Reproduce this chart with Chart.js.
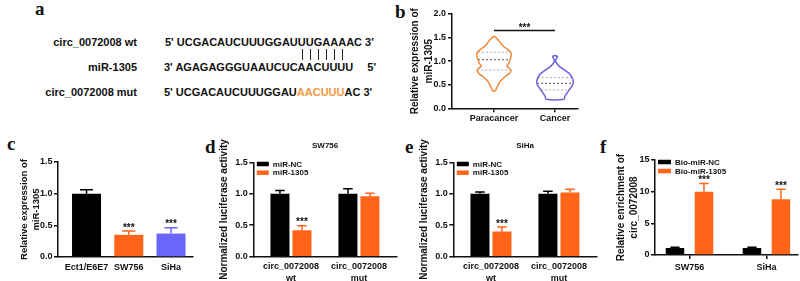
<!DOCTYPE html>
<html>
<head>
<meta charset="utf-8">
<script src="https://cdn.jsdelivr.net/npm/chart.js@4.4.1/dist/chart.umd.min.js"></script>
<style>
  body { margin: 0; background: #fff; }
  #fig { position: relative; width: 800px; height: 281px; overflow: hidden; font-family: "Liberation Sans", Arial, sans-serif; color: #111; }
  canvas { position: absolute; }
  .letter { position: absolute; font-family: "Liberation Serif", "Times New Roman", serif; font-weight: bold; font-size: 19px; line-height: 19px; }
  .row { position: absolute; font-weight: bold; font-size: 11px; line-height: 14px; white-space: nowrap; }
  .bp { position: relative; }
  .bp::after { content: ""; position: absolute; left: 50%; top: 12.5px; height: 11px; border-left: 1.3px solid #222; }
  .mut { color: #f09a3e; }
</style>
</head>
<body>
<div id="fig">
  <div class="letter" style="left:35px;top:-1px">a</div>
  <div class="letter" style="left:395px;top:2px">b</div>
  <div class="letter" style="left:7px;top:134px">c</div>
  <div class="letter" style="left:205px;top:137px">d</div>
  <div class="letter" style="left:405px;top:137px">e</div>
  <div class="letter" style="left:600px;top:137px">f</div>

  <div class="row" style="right:663px;top:35px">circ_0072008 wt</div>
  <div class="row" style="left:165px;top:35px">5' UCGACAUCUUUGGAU<span class="bp">U</span><span class="bp">U</span><span class="bp">G</span><span class="bp">A</span><span class="bp">A</span><span class="bp">A</span>AC 3'</div>
  <div class="row" style="right:663px;top:60px">miR-1305</div>
  <div class="row" style="left:164px;top:60px">3' AGAGAGGGUAAUCUCAACUUUU</div>
  <div class="row" style="right:424px;top:60px">5'</div>
  <div class="row" style="right:663px;top:85px">circ_0072008 mut</div>
  <div class="row" style="left:164px;top:85px">5' UCGACAUCUUUGGAU<span class="mut">AACUUU</span>AC 3'</div>

  <canvas id="chartB" width="185" height="135" style="left:400px;top:0px"></canvas>
  <canvas id="chartC" width="200" height="151" style="left:0px;top:130px"></canvas>
  <canvas id="chartD" width="200" height="151" style="left:200px;top:130px"></canvas>
  <canvas id="chartE" width="200" height="151" style="left:400px;top:130px"></canvas>
  <canvas id="chartF" width="200" height="151" style="left:600px;top:130px"></canvas>
</div>

<script>
// panel b: violin outlines, [value, half width in category units], top to bottom
const violinCats = ["Paracancer", "Cancer"];
const paraOutline = [[1.53, 0], [1.50, 0.03], [1.45, 0.07], [1.38, 0.11], [1.31, 0.16], [1.24, 0.23],
  [1.17, 0.28], [1.10, 0.28], [1.02, 0.26], [0.95, 0.24], [0.90, 0.21], [0.85, 0.25], [0.80, 0.28],
  [0.74, 0.25], [0.67, 0.18], [0.60, 0.12], [0.53, 0.08], [0.47, 0.06], [0.42, 0.04], [0.38, 0.025], [0.36, 0]];
const cancerOutline = [[1.12, 0], [1.10, 0.04], [1.05, 0.02], [1.00, 0.01], [0.95, 0.03], [0.88, 0.08],
  [0.81, 0.16], [0.73, 0.24], [0.65, 0.28], [0.57, 0.30], [0.50, 0.29], [0.42, 0.25], [0.33, 0.20],
  [0.25, 0.16], [0.19, 0.15]];
const paraQuartiles = [0.81, 1.03, 1.19];
const cancerQuartiles = [0.39, 0.53, 0.65];
const violinSigLevel = 1.65;

// panel c
const cellLines = ["Ect1/E6E7", "SW756", "SiHa"];
const cellExpr = [1.0, 0.35, 0.37];
const cellErr = [0.06, 0.06, 0.09];
const cellStars = ["", "***", "***"];

// panels d and e
const reporterLabels = [["circ_0072008", "wt"], ["circ_0072008", "mut"]];
const sw756NC = [1.0, 1.0];
const sw756NCErr = [0.05, 0.08];
const sw756Mir = [0.42, 0.96];
const sw756MirErr = [0.07, 0.05];
const sihaNC = [1.0, 1.0];
const sihaNCErr = [0.03, 0.04];
const sihaMir = [0.40, 1.02];
const sihaMirErr = [0.07, 0.05];
const lucStars = ["***", ""];

// panel f
const pulldownCells = ["SW756", "SiHa"];
const bioNC = [1.1, 1.1];
const bioNCErr = [0.12, 0.12];
const bioMir = [10.0, 8.8];
const bioMirErr = [1.3, 1.6];
const bioStars = ["***", "***"];

const AXIS = "#111";
const ORANGE = "#ff6418";
const BLUE = "#6a66fa";
const FONT = '"Liberation Sans", Arial, sans-serif';

Chart.defaults.font.family = FONT;
Chart.defaults.font.weight = "bold";
Chart.defaults.color = AXIS;

const toPoints = (vals) => vals.map((y, i) => ({ x: i + 1, y: y }));

// upper error bars + significance stars
const errorBars = {
  id: "errorBars",
  afterDatasetsDraw(chart, args, opts) {
    const ctx = chart.ctx;
    const yScale = chart.scales.y;
    chart.data.datasets.forEach((ds, i) => {
      if (!ds.errors) return;
      chart.getDatasetMeta(i).data.forEach((bar, j) => {
        const top = yScale.getPixelForValue(ds.data[j].y + ds.errors[j]);
        const half = bar.width * opts.cap / 2;
        ctx.save();
        ctx.strokeStyle = bar.options.backgroundColor;
        ctx.lineWidth = 1.5;
        ctx.beginPath();
        ctx.moveTo(bar.x, bar.y);
        ctx.lineTo(bar.x, top);
        ctx.moveTo(bar.x - half, top);
        ctx.lineTo(bar.x + half, top);
        ctx.stroke();
        if (ds.stars && ds.stars[j]) {
          ctx.fillStyle = AXIS;
          ctx.font = "bold 10px " + FONT;
          ctx.textAlign = "center";
          ctx.textBaseline = "alphabetic";
          ctx.fillText(ds.stars[j], bar.x, top - 0.5);
        }
        ctx.restore();
      });
    });
  }
};

// legend in the top-left corner of the plot
const cornerLegend = {
  id: "cornerLegend",
  afterDraw(chart, args, opts) {
    if (!opts.show) return;
    const { ctx, chartArea } = chart;
    ctx.save();
    ctx.font = "bold 8px " + FONT;
    ctx.textBaseline = "middle";
    chart.data.datasets.forEach((ds, i) => {
      const x = chartArea.left + opts.left;
      const y = chartArea.top + opts.top + i * opts.rowGap;
      ctx.fillStyle = ds.backgroundColor;
      ctx.fillRect(x, y - opts.boxH / 2, opts.boxW, opts.boxH);
      ctx.fillStyle = AXIS;
      ctx.fillText(ds.label, x + opts.boxW + 4, y + 0.5);
    });
    ctx.restore();
  }
};

// small heading above the plot
const heading = {
  id: "heading",
  afterDraw(chart, args, opts) {
    if (!opts.text) return;
    const { ctx, chartArea } = chart;
    ctx.save();
    ctx.font = "bold 8px " + FONT;
    ctx.fillStyle = AXIS;
    ctx.textAlign = "center";
    ctx.textBaseline = "middle";
    ctx.fillText(opts.text, (chartArea.left + chartArea.right) / 2, chartArea.top - 17);
    ctx.restore();
  }
};

function barChart(id, cfg) {
  return new Chart(document.getElementById(id), {
    type: "bar",
    data: { datasets: cfg.datasets },
    options: {
      responsive: false,
      animation: false,
      layout: { padding: cfg.padding },
      datasets: { bar: { categoryPercentage: cfg.catPct, barPercentage: cfg.barPct, borderWidth: 0 } },
      plugins: {
        legend: { display: false },
        tooltip: { enabled: false },
        errorBars: { cap: cfg.cap },
        cornerLegend: cfg.legend || { show: false },
        heading: { text: cfg.heading || "" }
      },
      scales: {
        x: {
          type: "linear", min: cfg.xMin, max: cfg.xMax, bounds: "data", offset: false,
          grid: { display: cfg.xTicks, drawOnChartArea: false, drawTicks: cfg.xTicks, tickLength: 4, color: AXIS, lineWidth: 1.5, offset: false },
          border: { color: AXIS, width: 1.5 },
          ticks: { font: { size: 9, lineHeight: 1.29 }, padding: cfg.xPad, maxRotation: 0, autoSkip: false,
            callback: (v, i) => cfg.labels[i] },
          afterBuildTicks: (s) => { s.ticks = cfg.labels.map((_, i) => ({ value: i + 1 })); },
          afterFit: (s) => { s.height = cfg.xHeight; s.paddingLeft = 0; s.paddingRight = 0; }
        },
        y: {
          min: 0, max: cfg.yMax,
          ticks: { stepSize: cfg.yStep, font: { size: 9 }, padding: 1.5, callback: cfg.yFmt },
          grid: { drawOnChartArea: false, tickLength: 4, color: AXIS, lineWidth: 1.5 },
          border: { color: AXIS, width: 1.5 },
          title: { display: true, text: cfg.yTitle, font: cfg.yTitleFont, padding: { top: cfg.yTitlePad, bottom: 0 } },
          afterFit: (s) => { s.width = cfg.yWidth; s.paddingTop = 0; s.paddingBottom = 0; }
        }
      }
    },
    plugins: [errorBars, cornerLegend, heading]
  });
}

// ---- b: violins ----
function outlinePoints(center, outline) {
  const right = outline.map(([v, w]) => ({ x: center + w, y: v }));
  const left = outline.slice().reverse().map(([v, w]) => ({ x: center - w, y: v }));
  return right.concat(left, [right[0]]);
}
function halfWidthAt(outline, v) {
  for (let i = 0; i < outline.length - 1; i++) {
    const [v0, w0] = outline[i];
    const [v1, w1] = outline[i + 1];
    if (v <= v0 && v >= v1) return w0 + (w1 - w0) * (v - v0) / (v1 - v0);
  }
  return 0;
}
function quartileSets(center, outline, quartiles) {
  return quartiles.map((q, k) => {
    const w = halfWidthAt(outline, q);
    return {
      data: [{ x: center - w, y: q }, { x: center + w, y: q }],
      showLine: true, pointRadius: 0, borderWidth: 1, borderDash: [2, 2],
      borderColor: k === 1 ? "#555" : "#aaa"
    };
  });
}

const sigStars = {
  id: "sigStars",
  afterDatasetsDraw(chart) {
    const { ctx, scales } = chart;
    ctx.save();
    ctx.font = "bold 10px " + FONT;
    ctx.fillStyle = AXIS;
    ctx.textAlign = "center";
    ctx.textBaseline = "alphabetic";
    ctx.fillText("***", (scales.x.getPixelForValue(1) + scales.x.getPixelForValue(2)) / 2,
      scales.y.getPixelForValue(violinSigLevel) + 0.5);
    ctx.restore();
  }
};

new Chart(document.getElementById("chartB"), {
  type: "scatter",
  data: {
    datasets: [
      { data: outlinePoints(1, paraOutline), showLine: true, pointRadius: 0, borderColor: "#ee8a3c", borderWidth: 1.5, tension: 0.3 },
      { data: outlinePoints(2, cancerOutline), showLine: true, pointRadius: 0, borderColor: "#6e62d9", borderWidth: 1.5, tension: 0.3 },
      ...quartileSets(1, paraOutline, paraQuartiles),
      ...quartileSets(2, cancerOutline, cancerQuartiles),
      { data: [{ x: 1, y: violinSigLevel }, { x: 2, y: violinSigLevel }], showLine: true, pointRadius: 0, borderColor: AXIS, borderWidth: 1.5 }
    ]
  },
  options: {
    responsive: false,
    animation: false,
    layout: { padding: { top: 14, right: 7, left: 0, bottom: 0 } },
    plugins: { legend: { display: false }, tooltip: { enabled: false } },
    scales: {
      x: {
        type: "linear", min: 0.311, max: 2.377, bounds: "data",
        grid: { drawOnChartArea: false, tickLength: 4, color: AXIS, lineWidth: 1.5 },
        border: { color: AXIS, width: 1.5 },
        ticks: { font: { size: 9 }, padding: 1, maxRotation: 0, autoSkip: false, callback: (v, i) => violinCats[i] },
        afterBuildTicks: (s) => { s.ticks = violinCats.map((_, i) => ({ value: i + 1 })); },
        afterFit: (s) => { s.height = 26.7; s.paddingLeft = 0; s.paddingRight = 0; }
      },
      y: {
        min: 0, max: 2,
        ticks: { stepSize: 0.5, font: { size: 9 }, padding: 2, callback: (v) => v.toFixed(1) },
        grid: { drawOnChartArea: false, tickLength: 4, color: AXIS, lineWidth: 1.5 },
        border: { color: AXIS, width: 1.5 },
        title: { display: true, text: ["Relative expression of", "miR-1305"], font: { size: 10, lineHeight: 1.4 }, padding: { top: 8, bottom: 0 } },
        afterFit: (s) => { s.width = 52; s.paddingTop = 0; s.paddingBottom = 0; }
      }
    }
  },
  plugins: [sigStars]
});

// ---- c ----
barChart("chartC", {
  datasets: [{ data: toPoints(cellExpr), backgroundColor: ["#000", ORANGE, BLUE], errors: cellErr, stars: cellStars }],
  labels: cellLines,
  padding: { top: 32, right: 7, left: 0, bottom: 0 },
  xMin: 0.325, xMax: 3.52, xTicks: false, xPad: 4.3, xHeight: 24,
  catPct: 0.8, barPct: 0.858, cap: 0.45,
  yMax: 1.5, yStep: 0.5, yFmt: (v) => v.toFixed(1), yWidth: 58,
  yTitle: ["Relative expression of", "miR-1305"], yTitleFont: { size: 9.5, lineHeight: 1.26 }, yTitlePad: 18.5
});

// ---- d ----
barChart("chartD", {
  datasets: [
    { label: "miR-NC", data: toPoints(sw756NC), backgroundColor: "#000", errors: sw756NCErr },
    { label: "miR-1305", data: toPoints(sw756Mir), backgroundColor: ORANGE, errors: sw756MirErr, stars: lucStars }
  ],
  labels: reporterLabels,
  padding: { top: 32.3, right: 3, left: 0, bottom: 0 },
  xMin: 0.446, xMax: 2.56, xTicks: false, xPad: 4.2, xHeight: 24.3,
  catPct: 0.647, barPct: 0.864, cap: 0.5,
  yMax: 1.5, yStep: 0.5, yFmt: (v) => v.toFixed(1), yWidth: 53.3,
  yTitle: "Normalized luciferase activity", yTitleFont: { size: 10, lineHeight: 1.2 }, yTitlePad: 18,
  legend: { show: true, left: 3.5, top: 1.7, rowGap: 8.7, boxW: 12, boxH: 4.5 },
  heading: "SW756"
});

// ---- e ----
barChart("chartE", {
  datasets: [
    { label: "miR-NC", data: toPoints(sihaNC), backgroundColor: "#000", errors: sihaNCErr },
    { label: "miR-1305", data: toPoints(sihaMir), backgroundColor: ORANGE, errors: sihaMirErr, stars: lucStars }
  ],
  labels: reporterLabels,
  padding: { top: 32.3, right: 3, left: 0, bottom: 0 },
  xMin: 0.446, xMax: 2.56, xTicks: false, xPad: 4.2, xHeight: 24.3,
  catPct: 0.647, barPct: 0.864, cap: 0.5,
  yMax: 1.5, yStep: 0.5, yFmt: (v) => v.toFixed(1), yWidth: 53.3,
  yTitle: "Normalized luciferase activity", yTitleFont: { size: 10, lineHeight: 1.2 }, yTitlePad: 18,
  legend: { show: true, left: 3.5, top: 1.7, rowGap: 8.7, boxW: 12, boxH: 4.5 },
  heading: "SiHa"
});

// ---- f ----
barChart("chartF", {
  datasets: [
    { label: "Bio-miR-NC", data: toPoints(bioNC), backgroundColor: "#000", errors: bioNCErr },
    { label: "Bio-miR-1305", data: toPoints(bioMir), backgroundColor: ORANGE, errors: bioMirErr, stars: bioStars }
  ],
  labels: pulldownCells,
  padding: { top: 30, right: 2, left: 0, bottom: 0 },
  xMin: 0.552, xMax: 2.41, xTicks: true, xPad: 2.3, xHeight: 26,
  catPct: 0.753, barPct: 0.638, cap: 0.5,
  yMax: 15, yStep: 5, yFmt: (v) => String(v), yWidth: 55,
  yTitle: ["Relative enrichment of", "circ_0072008"], yTitleFont: { size: 10, lineHeight: 1.3 }, yTitlePad: 14.5,
  legend: { show: true, left: 3, top: 2, rowGap: 9, boxW: 13, boxH: 4.5 }
});
</script>
</body>
</html>
